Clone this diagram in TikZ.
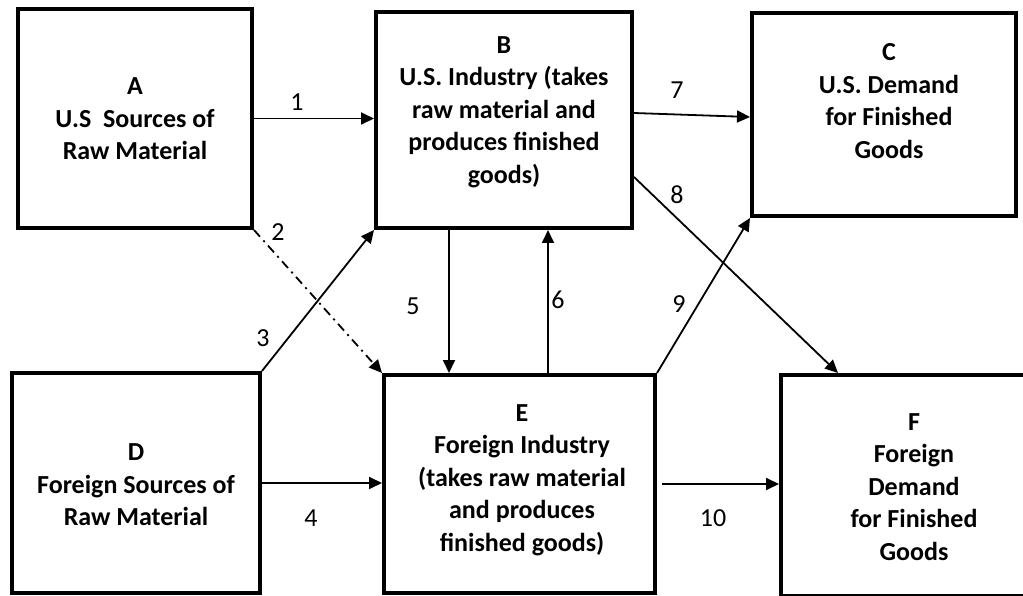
\documentclass[tikz,border=0pt]{standalone}
\usepackage{fontspec}
\setmainfont{Carlito}
\usetikzlibrary{arrows.meta}
\begin{document}
\begin{tikzpicture}[x=1pt,y=-1pt,
  boxst/.style={draw=black,line width=4pt,rectangle,inner sep=0pt},
  txt/.style={font=\fontsize{26}{32.5}\selectfont\bfseries,align=center,inner sep=0pt},
  num/.style={font=\fontsize{26}{30}\selectfont,inner sep=0pt},
  arr/.style={line width=1.8pt,-{Triangle[length=13pt,width=12pt]}},
  dashdot/.style={dash pattern=on 9pt off 5pt on 2pt off 5pt}]
\useasboundingbox (0,0) rectangle (1023,596);
\clip (0,0) rectangle (1023,596);
% boxes
\node[boxst,minimum width=234pt,minimum height=219pt] (A) at (135,118.5) {};
\node[boxst,minimum width=256pt,minimum height=216pt] (B) at (504,120) {};
\node[boxst,minimum width=264pt,minimum height=203pt] (C) at (884,114.5) {};
\node[boxst,minimum width=248pt,minimum height=220pt] (D) at (136,483) {};
\node[boxst,minimum width=271pt,minimum height=218pt] (E) at (519.5,484) {};
\node[boxst,minimum width=264pt,minimum height=221pt] (F) at (913,485.5) {};
% texts
\node[txt] (At) at (135,119) {A\\U.S\ \ Sources of\\Raw Material};
\node[txt] (Bt) at (504,112) {B\\U.S. Industry (takes\\raw material and\\produces finished\\goods)};
\node[txt] (Ct) at (889,101) {C\\U.S. Demand\\for Finished\\Goods};
\node[txt] (Dt) at (136,485) {D\\Foreign Sources of\\Raw Material};
\node[txt] (Et) at (522,480) {E\\Foreign Industry\\(takes raw material\\and produces\\finished goods)};
\node[txt] (Ft) at (914,487) {F\\Foreign\\Demand\\for Finished\\Goods};
% helper coordinates
\coordinate (x5) at (449,0);
\coordinate (x6) at (548,0);
\coordinate (y7a) at (0,113);
\coordinate (y7b) at (0,117);
\coordinate (y8) at (0,177);
\coordinate (x8) at (838,0);
% connectors
\draw[arr] (A.east) -- (B.west |- A.east);
\draw[arr,dashdot] (A.south east) -- (E.north west);
\draw[arr] (D.north east) -- (B.south west);
\draw[arr] (D.east) -- (E.west |- D.east);
\draw[arr] (B.south -| x5) -- (E.north -| x5);
\draw[arr] (E.north -| x6) -- (B.south -| x6);
\draw[arr] (B.east |- y7a) -- (C.west |- y7b);
\draw[arr] (B.east |- y8) -- (F.north -| x8);
\draw[arr] (E.north east) -- (C.south west);
\draw[arr] ([xshift=5pt]E.east) -- (F.west |- E.east);
% labels
\node[num] (n1) at (297,102) {1};
\node[num] (n2) at (278,232) {2};
\node[num] (n3) at (263,338) {3};
\node[num] (n4) at (311,518) {4};
\node[num] (n5) at (413,306) {5};
\node[num] (n6) at (558,300) {6};
\node[num] (n7) at (677,90) {7};
\node[num] (n8) at (677,195) {8};
\node[num] (n9) at (679,304) {9};
\node[num] (n10) at (713,518) {10};
\end{tikzpicture}
\end{document}
